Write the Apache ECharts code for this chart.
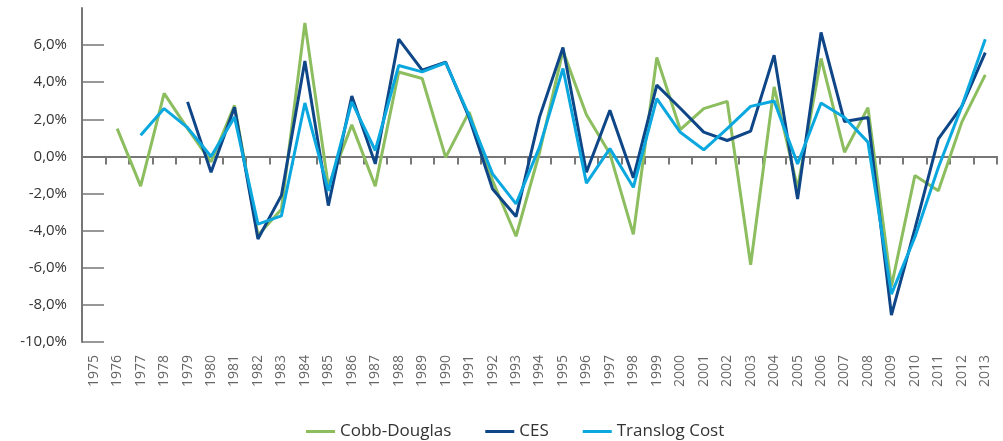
<!DOCTYPE html>
<html>
<head>
<meta charset="utf-8">
<script src="https://cdn.jsdelivr.net/npm/echarts@6/dist/echarts.min.js"></script>
<style>
  html, body { margin: 0; padding: 0; background: #fff; }
  #chart { width: 1003px; height: 441px; }
</style>
</head>
<body>
<div id="chart"></div>
<script>
const years = ['1975','1976','1977','1978','1979','1980','1981','1982','1983','1984',
  '1985','1986','1987','1988','1989','1990','1991','1992','1993','1994',
  '1995','1996','1997','1998','1999','2000','2001','2002','2003','2004',
  '2005','2006','2007','2008','2009','2010','2011','2012','2013'];

// annual growth, %
const cobbDouglas = [null, 1.5, -1.6, 3.4, 1.5, -0.3, 2.75, -4.25, -2.85, 7.2,
  -1.6, 1.7, -1.6, 4.55, 4.2, -0.05, 2.4, -1.3, -4.3, 0.2,
  5.7, 2.25, 0.15, -4.2, 5.33, 1.45, 2.58, 2.97, -5.84, 3.75,
  -1.7, 5.28, 0.23, 2.63, -7.0, -1.03, -1.85, 1.85, 4.4];

const ces = [null, null, null, null, 2.94, -0.85, 2.65, -4.45, -2.1, 5.14,
  -2.65, 3.26, -0.4, 6.32, 4.65, 5.08, 2.1, -1.75, -3.24, 2.12,
  5.87, -0.85, 2.49, -1.15, 3.84, 2.6, 1.31, 0.86, 1.37, 5.46,
  -2.3, 6.68, 1.88, 2.1, -8.55, -3.9, 0.95, 2.7, 5.6];

const translog = [null, null, 1.14, 2.58, 1.55, 0.0, 2.12, -3.65, -3.2, 2.88,
  -1.85, 2.94, 0.32, 4.9, 4.56, 5.05, 2.2, -0.94, -2.56, 0.5,
  4.74, -1.44, 0.42, -1.66, 3.12, 1.3, 0.36, 1.5, 2.7, 2.99,
  -0.4, 2.88, 2.1, 0.77, -7.42, -4.35, -0.6, 2.7, 6.32];

const yTicks = [-10, -8, -6, -4, -2, 0, 2, 4, 6];

const font = 'Open Sans';
const axisGray = '#777777';

const chart = echarts.init(document.getElementById('chart'));

const fmt = v => v.toFixed(1).replace('.', ',') + '%';

const lineSeries = (name, data, color) => ({
  name: name,
  type: 'line',
  data: data,
  xAxisIndex: 0,
  symbol: 'none',
  connectNulls: false,
  lineStyle: { color: color, width: 3 },
  itemStyle: { color: color },
  animation: false
});

chart.setOption({
  textStyle: { fontFamily: font },
  grid: { left: 82, right: 6, top: 8, bottom: 99 },
  legend: {
    left: 301,
    top: 418,
    itemWidth: 29,
    itemHeight: 3,
    itemGap: 34,
    icon: 'rect',
    textStyle: { fontFamily: font, fontSize: 17, color: '#333' },
    data: ['Cobb-Douglas', 'CES', 'Translog Cost']
  },
  xAxis: [
    {
      type: 'category',
      data: years,
      position: 'bottom',
      boundaryGap: true,
      axisLine: { show: false, onZero: false },
      axisTick: { show: false },
      axisLabel: {
        rotate: 90,
        margin: 13,
        interval: 0,
        fontFamily: font,
        fontSize: 14,
        color: '#666'
      }
    },
    {
      type: 'category',
      data: years,
      position: 'bottom',
      boundaryGap: true,
      axisLine: { show: true, onZero: true, lineStyle: { color: axisGray, width: 2 } },
      axisTick: { show: true, length: 8, interval: 0, lineStyle: { color: axisGray, width: 2 } },
      axisLabel: { show: false }
    }
  ],
  yAxis: {
    type: 'value',
    min: -10,
    max: 8,
    interval: 2,
    splitLine: { show: false },
    axisLine: { show: true, lineStyle: { color: axisGray, width: 2 } },
    axisTick: {
      show: true,
      inside: true,
      length: 22,
      customValues: yTicks,
      lineStyle: { color: axisGray, width: 1.5 }
    },
    axisLabel: {
      customValues: yTicks,
      margin: 15,
      fontFamily: font,
      fontSize: 15,
      color: '#333',
      formatter: fmt
    }
  },
  series: [
    lineSeries('Cobb-Douglas', cobbDouglas, '#8cbd5e'),
    lineSeries('CES', ces, '#0e4687'),
    lineSeries('Translog Cost', translog, '#0ba8e0')
  ]
});
</script>
</body>
</html>
